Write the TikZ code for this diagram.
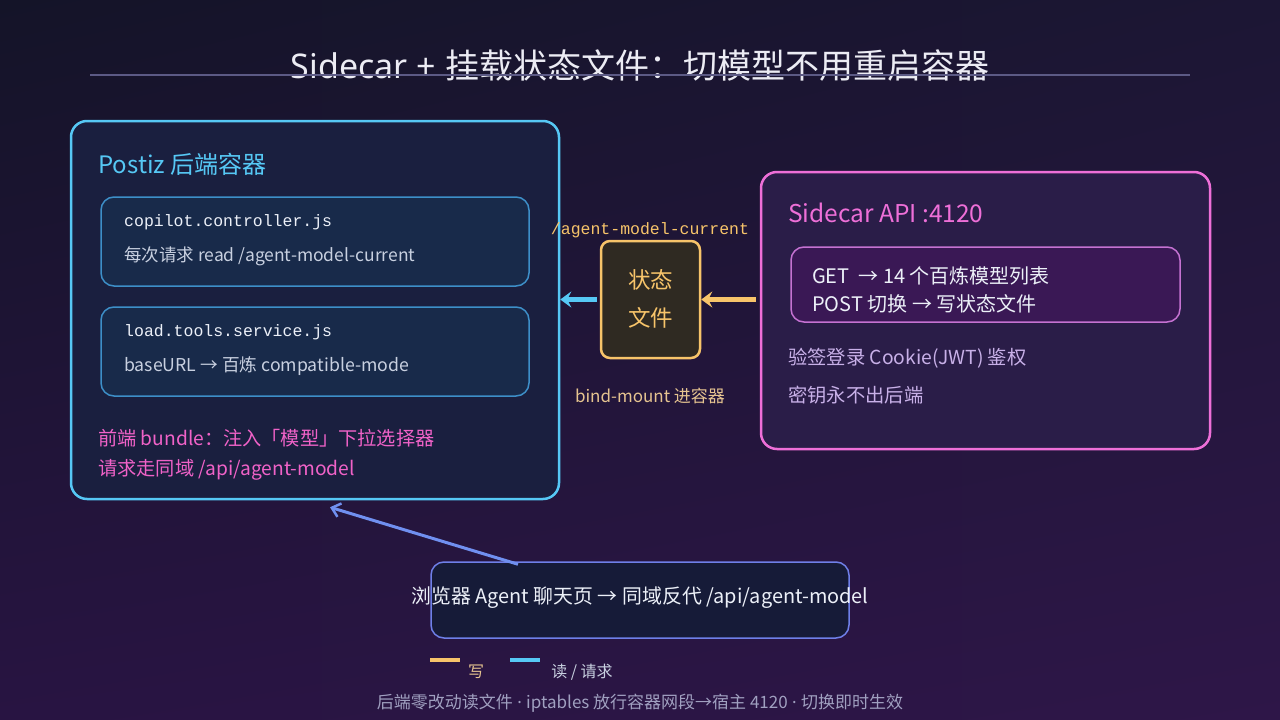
\documentclass[tikz,border=0pt]{standalone}
\usepackage{fontspec}
\setmainfont{Noto Sans CJK SC}
\newfontfamily\monofont{Liberation Mono}
\newfontfamily\latinfont{Noto Sans}
\usetikzlibrary{arrows.meta,calc,shadings}
\definecolor{bgTL}{RGB}{20,20,40}
\definecolor{bgTR}{RGB}{28,22,52}
\definecolor{bgBL}{RGB}{40,20,66}
\definecolor{bgBR}{RGB}{46,22,72}
\definecolor{titlec}{RGB}{236,236,244}
\definecolor{rulec}{RGB}{92,90,133}
\definecolor{cyanc}{RGB}{86,200,245}
\definecolor{postfill}{RGB}{26,31,63}
\definecolor{innerstroke}{RGB}{61,143,200}
\definecolor{innerfill}{RGB}{24,42,74}
\definecolor{orangec}{RGB}{247,196,106}
\definecolor{statefill}{RGB}{47,42,34}
\definecolor{tanc}{RGB}{230,196,144}
\definecolor{pinkc}{RGB}{238,111,216}
\definecolor{pinktext}{RGB}{240,98,200}
\definecolor{sidefill}{RGB}{42,29,72}
\definecolor{sideinstroke}{RGB}{197,114,210}
\definecolor{sideinfill}{RGB}{58,24,85}
\definecolor{lavc}{RGB}{200,176,232}
\definecolor{browstroke}{RGB}{111,127,232}
\definecolor{browfill}{RGB}{22,27,56}
\definecolor{bluearrow}{RGB}{112,144,240}
\definecolor{bodytext}{RGB}{200,208,224}
\definecolor{whitec}{RGB}{236,240,248}
\definecolor{footc}{RGB}{160,160,192}
\newcommand{\mdot}{{\latinfont\ ·\ }}
\tikzset{
  fs/.style={font=\fontsize{#1}{#1}\selectfont},
  bigbox/.style={draw, rounded corners=16pt, line width=2.5pt, inner sep=0pt},
  innerbox/.style={draw, rounded corners=13pt, line width=1.5pt, inner sep=0pt},
  lbl/.style={anchor=west, inner sep=0pt},
  thickarrow/.style={line width=4.5pt, -{Stealth[length=11pt,width=16pt,inset=4pt]}},
}
\begin{document}
\begin{tikzpicture}[x=1pt,y=-1pt]
\shade[upper left=bgTL, upper right=bgTR, lower left=bgBL, lower right=bgBR] (0,0) rectangle (1280,720);
\useasboundingbox (0,0) rectangle (1280,720);

% title
\node[inner sep=0pt, text=titlec, fs=34] (title) at (640,66) {{\latinfont Sidecar + }挂载状态文件：切模型不用重启容器};
\coordinate (ruleL) at (90,75);
\coordinate (ruleR) at (1190,75);
\draw[rulec, line width=2pt] (ruleL) -- (ruleR);

% Postiz container
\node[bigbox, draw=cyanc, fill=postfill, minimum width=488pt, minimum height=378pt] (postiz) at (315,310) {};
\node[lbl, text=cyanc, fs=24] (postiztitle) at (98,164) {Postiz 后端容器};
\node[innerbox, draw=innerstroke, fill=innerfill, minimum width=428pt, minimum height=89pt] (ctrl) at (315,241.5) {};
\node[lbl, text=whitec, font=\monofont\fontsize{16.5}{20}\selectfont] (ctrlA) at (124,222) {copilot.controller.js};
\node[lbl, text=bodytext, fs=17.5] (ctrlB) at (124,256) {每次请求 read /agent-model-current};
\node[innerbox, draw=innerstroke, fill=innerfill, minimum width=428pt, minimum height=89pt] (tools) at (315,351.5) {};
\node[lbl, text=whitec, font=\monofont\fontsize{16.5}{20}\selectfont] (toolsA) at (124,332) {load.tools.service.js};
\node[lbl, text=bodytext, fs=17.7] (toolsB) at (124,366) {baseURL → 百炼 compatible-mode};
\node[lbl, text=pinktext, fs=19.2] (front1) at (98,438) {前端 bundle：注入「模型」下拉选择器};
\node[lbl, text=pinktext, fs=19.2] (front2) at (98,470) {请求走同域 /api/agent-model};

% state file
\node[draw=orangec, fill=statefill, line width=2.5pt, rounded corners=9pt, minimum width=99pt, minimum height=117pt, inner sep=0pt] (state) at (650.5,299.5) {};
\node[text=orangec, align=center, inner sep=0pt, font=\fontsize{22.5}{38}\selectfont] (statetxt) at (650.5,299) {状态\\文件};
\node[inner sep=0pt, text=orangec, font=\monofont\fontsize{16.5}{20}\selectfont] (pathlbl) at (650,230) {/agent-model-current};
\node[inner sep=0pt, text=tanc, fs=17] (bindlbl) at (650,396) {bind-mount 进容器};

% Sidecar
\node[bigbox, draw=pinkc, fill=sidefill, minimum width=449pt, minimum height=277pt] (sidecar) at (985.5,310.5) {};
\node[lbl, text=pinkc, fs=24.5] (sidetitle) at (788,213) {Sidecar API :4120};
\node[innerbox, draw=sideinstroke, fill=sideinfill, minimum width=389pt, minimum height=75pt] (api) at (985.5,284.5) {};
\node[lbl, text=whitec, fs=20] (apiA) at (812,276) {GET\ \ → 14 个百炼模型列表};
\node[lbl, text=whitec, fs=20] (apiB) at (812,304) {POST 切换 → 写状态文件};
\node[lbl, text=lavc, fs=19.3] (auth1) at (788,358) {验签登录 Cookie(JWT) 鉴权};
\node[lbl, text=lavc, fs=19.3] (auth2) at (788,395) {密钥永不出后端};

% arrows
\draw[thickarrow, cyanc, shorten <=3pt] (state.west) -- (state.west -| postiz.east);
\draw[thickarrow, orangec, shorten <=4pt] (state.east -| sidecar.west) -- (state.east);

% browser
\node[draw=browstroke, fill=browfill, line width=1.5pt, rounded corners=13pt, minimum width=418pt, minimum height=76pt, inner sep=0pt] (browser) at (640,600) {};
\node[inner sep=0pt, text=whitec, fs=19.9] (browtxt) at (640,598) {浏览器 Agent 聊天页 → 同域反代 /api/agent-model};
\coordinate (bstart) at ([shift={(-122,3)}]browser.north);
\coordinate (pend) at ([shift={(15,7)}]postiz.south);
\draw[bluearrow, line width=3pt, -{Straight Barb[length=8pt,width=14pt,line width=2.5pt]}] (bstart) -- (pend);

% legend
\coordinate (lgA1) at (430,660); \coordinate (lgA2) at (460,660);
\coordinate (lgB1) at (510,660); \coordinate (lgB2) at (540,660);
\draw[orangec, line width=4pt] (lgA1) -- (lgA2);
\draw[cyanc, line width=4pt] (lgB1) -- (lgB2);
\node[inner sep=0pt, text=tanc, fs=16] (lgAt) at (476,672) {写};
\node[inner sep=0pt, text=bodytext, fs=16] (lgBt) at (582,672) {读 / 请求};

% footer
\node[inner sep=0pt, text=footc, fs=17] (footer) at (640,703) {后端零改动读文件\mdot iptables 放行容器网段→宿主 4120\mdot 切换即时生效};
\end{tikzpicture}
\end{document}
